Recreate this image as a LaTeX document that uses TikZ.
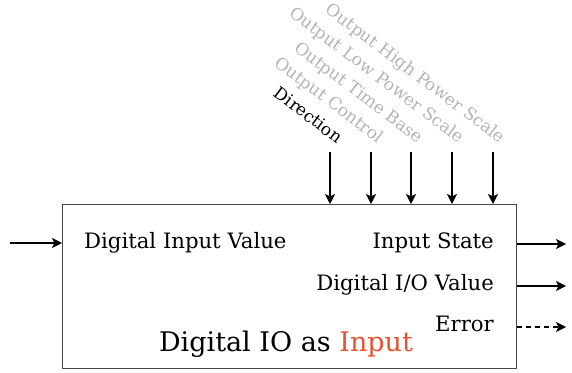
\documentclass[tikz,border=0pt]{standalone}
\usepackage{fontspec}
\setmainfont{DejaVu Serif}
\usetikzlibrary{arrows.meta}
\definecolor{lblgray}{RGB}{180,180,180}
\definecolor{accent}{RGB}{232,82,48}
\definecolor{boxline}{RGB}{70,70,70}
\tikzset{
  conn/.style={line width=1.1pt, -{Stealth[length=10pt,width=10pt,inset=2.5pt]}},
  toplabel/.style={rotate=-37, anchor=base east, inner sep=0pt, font=\fontsize{17}{18}\selectfont},
  boxtext/.style={inner sep=0pt, font=\fontsize{21.2}{23}\selectfont},
}
\begin{document}
\begin{tikzpicture}[x=1pt,y=-1pt]
\useasboundingbox (0,0) rectangle (572,372);
\node[draw=boxline, line width=1pt, minimum width=454pt, minimum height=164pt, inner sep=0pt, anchor=north west] (box) at (62,204) {};
% inside texts
\node[boxtext, anchor=base west] (div) at (84,248) {Digital Input Value};
\node[boxtext, anchor=base east] (ist) at (494,248) {Input State};
\node[boxtext, anchor=base east] (dio) at (494,290) {Digital I/O Value};
\node[boxtext, anchor=base east] (err) at (494,331) {Error};
\node[inner sep=0pt, anchor=base, font=\fontsize{27}{30}\selectfont] (title) at (286,351) {Digital IO as \textcolor{accent}{Input}};
% input
\coordinate (inS) at (10,243);
\draw[conn] (inS) -- (box.west |- inS);
% outputs
\coordinate (o1) at (566,244);
\coordinate (o2) at (566,286);
\coordinate (o3) at (566,327);
\draw[conn] (box.east |- o1) -- (o1);
\draw[conn] (box.east |- o2) -- (o2);
\draw[conn, dash pattern=on 5pt off 4pt] (box.east |- o3) -- (o3);
% top inputs
\foreach \x/\name/\col/\txt in {330/t1/black/Direction, 371/t2/lblgray/Output Control, 411/t3/lblgray/Output Time Base, 452/t4/lblgray/Output Low Power Scale, 493/t5/lblgray/Output High Power Scale}{
  \coordinate (\name) at (\x,152);
  \draw[conn] (\name) -- (box.north -| \name);
  \node[toplabel, text=\col] (\name l) at (\x+7,144) {\txt};
}
\end{tikzpicture}
\end{document}
